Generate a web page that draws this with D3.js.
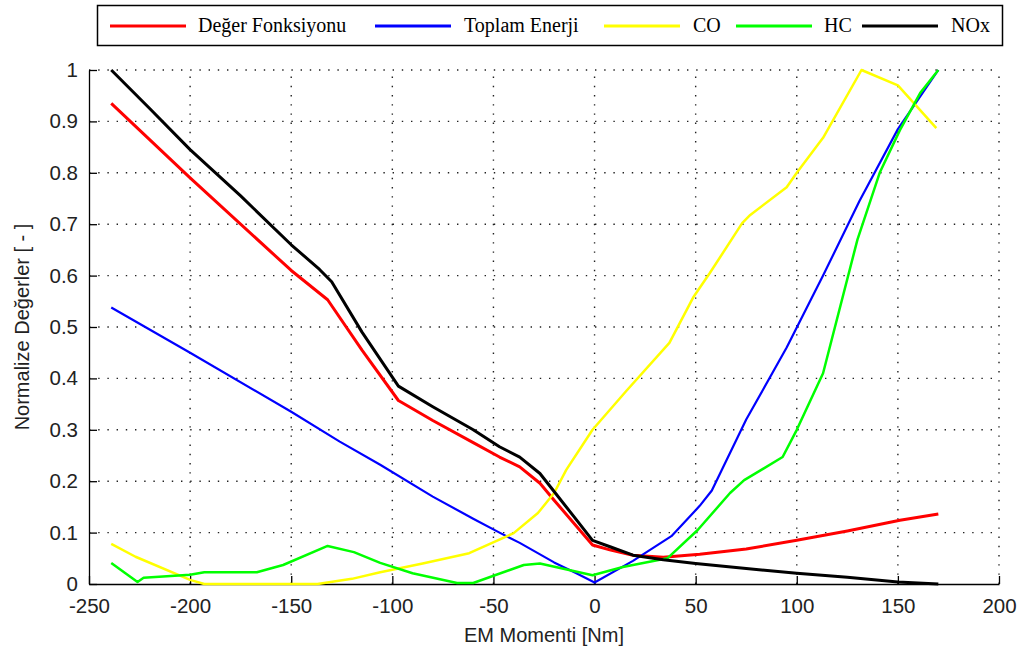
<!DOCTYPE html>
<html>
<head>
<meta charset="utf-8">
<script src="https://cdn.jsdelivr.net/npm/d3@7"></script>
<style>
  html, body { margin: 0; padding: 0; background: #fff; }
  svg { display: block; }
</style>
</head>
<body>
<svg id="chart" width="1025" height="651"></svg>
<script>
// Series values: EM torque [Nm] vs normalized value
const degerX = [-239, -200, -150, -132, -115, -97, -80, -60, -47, -37, -27, -20, -1, 8, 19, 34, 52, 75, 100, 125, 151, 170];
const degerY = [0.935, 0.79, 0.61, 0.553, 0.455, 0.357, 0.318, 0.275, 0.247, 0.228, 0.196, 0.163, 0.076, 0.066, 0.056, 0.052, 0.058, 0.068, 0.085, 0.103, 0.124, 0.136];

const enerjiX = [-239, -200, -150, -126, -106, -80, -60, -47, -37, -20, -9, 0, 19, 38, 52, 58, 75, 95, 113, 131, 150, 170];
const enerjiY = [0.538, 0.45, 0.335, 0.277, 0.232, 0.17, 0.127, 0.1, 0.08, 0.042, 0.021, 0.003, 0.045, 0.093, 0.152, 0.182, 0.32, 0.46, 0.6, 0.745, 0.885, 1.0];

const coX = [-239, -227, -200, -193, -137, -120, -106, -85, -62, -40, -28, -20, -14, -1, 16, 37, 49, 57, 73, 77, 95, 100, 113, 132, 150, 169];
const coY = [0.078, 0.053, 0.008, 0, 0, 0.01, 0.023, 0.04, 0.06, 0.099, 0.138, 0.177, 0.222, 0.3, 0.377, 0.469, 0.559, 0.605, 0.702, 0.718, 0.772, 0.8, 0.868, 1.0, 0.97, 0.887];

const hcX = [-239, -226, -223, -200, -193, -167, -154, -132, -119, -106, -90, -68, -60, -35, -27, -1, 14, 36, 51, 67, 74, 93, 100, 113, 130, 141, 151, 161, 170];
const hcY = [0.041, 0.004, 0.012, 0.018, 0.023, 0.023, 0.037, 0.074, 0.062, 0.041, 0.021, 0.002, 0.002, 0.037, 0.04, 0.017, 0.033, 0.05, 0.105, 0.177, 0.202, 0.247, 0.3, 0.41, 0.67, 0.8, 0.883, 0.955, 1.0];

const noxX = [-239, -220, -200, -175, -150, -136, -130, -115, -97, -80, -60, -47, -37, -27, -20, -10, -1, 8, 19, 34, 50, 75, 100, 125, 150, 170];
const noxY = [1.0, 0.925, 0.845, 0.755, 0.66, 0.612, 0.588, 0.49, 0.385, 0.345, 0.3, 0.267, 0.247, 0.215, 0.18, 0.13, 0.085, 0.072, 0.056, 0.047, 0.04, 0.03, 0.021, 0.013, 0.004, 0];

const seriesNames = ["Değer Fonksiyonu", "Toplam Enerji", "CO", "HC", "NOx"];
const seriesColors = ["#ff0000", "#0000ff", "#ffff00", "#00ff00", "#000000"];
const seriesWidths = [3, 2.2, 2.5, 2.5, 3];
const seriesX = [degerX, enerjiX, coX, hcX, noxX];
const seriesY = [degerY, enerjiY, coY, hcY, noxY];

const xTicks = [-250, -200, -150, -100, -50, 0, 50, 100, 150, 200];
const yTicks = [0, 0.1, 0.2, 0.3, 0.4, 0.5, 0.6, 0.7, 0.8, 0.9, 1];

const xTitle = "EM Momenti [Nm]";
const yTitle = "Normalize Değerler [ - ]";

// Layout
const plot = { left: 89, right: 999, top: 70, bottom: 584 };
const svg = d3.select("#chart");

const x = d3.scaleLinear().domain([-250, 200]).range([plot.left, plot.right]);
const y = d3.scaleLinear().domain([0, 1]).range([plot.bottom, plot.top]);

// Dotted grid
const grid = svg.append("g");
grid.selectAll("line.v").data(xTicks.slice(1)).join("line")
  .attr("x1", d => x(d)).attr("x2", d => x(d))
  .attr("y1", plot.bottom).attr("y2", plot.top)
  .attr("stroke", "#222").attr("stroke-width", 1.4)
  .attr("stroke-dasharray", "1.4 7.8");
grid.selectAll("line.h").data(yTicks.slice(1)).join("line")
  .attr("x1", plot.left).attr("x2", plot.right)
  .attr("y1", d => y(d)).attr("y2", d => y(d))
  .attr("stroke", "#222").attr("stroke-width", 1.4)
  .attr("stroke-dasharray", "1.4 7.8");

// Axes (ticks point inward); plain hyphen for negative labels
const tickFont = "'Liberation Sans', Arial, sans-serif";
const xAxis = svg.append("g")
  .attr("transform", `translate(0,${plot.bottom})`)
  .call(d3.axisBottom(x).tickValues(xTicks).tickSize(-8).tickPadding(14).tickSizeOuter(0)
    .tickFormat(d => String(d)));
const yAxis = svg.append("g")
  .attr("transform", `translate(${plot.left},0)`)
  .call(d3.axisLeft(y).tickValues(yTicks).tickSize(-8).tickPadding(11).tickSizeOuter(0)
    .tickFormat(d => d === 0 || d === 1 ? String(d) : d.toFixed(1)));

[xAxis, yAxis].forEach(g => {
  g.select(".domain").attr("stroke", "#000").attr("stroke-width", 1.3);
  g.selectAll(".tick line").attr("stroke", "#000").attr("stroke-width", 1.3);
  g.selectAll(".tick text")
    .attr("fill", "#222")
    .style("font-family", tickFont)
    .style("font-size", "20.5px");
});

// Series lines
const lines = svg.append("g");
seriesNames.forEach((name, i) => {
  const pts = seriesX[i].map((v, k) => [v, seriesY[i][k]]);
  lines.append("path")
    .datum(pts)
    .attr("fill", "none")
    .attr("stroke", seriesColors[i])
    .attr("stroke-width", seriesWidths[i])
    .attr("stroke-linejoin", "round")
    .attr("d", d3.line().x(d => x(d[0])).y(d => y(d[1])));
});

// Axis titles
svg.append("text")
  .attr("x", (plot.left + plot.right) / 2)
  .attr("y", 642)
  .attr("text-anchor", "middle")
  .attr("fill", "#222")
  .style("font-family", tickFont)
  .style("font-size", "20px")
  .text(xTitle);

svg.append("text")
  .attr("transform", "translate(29,327) rotate(-90)")
  .attr("text-anchor", "middle")
  .attr("fill", "#222")
  .style("font-family", tickFont)
  .style("font-size", "20px")
  .text(yTitle);

// Legend
const legend = svg.append("g");
legend.append("rect")
  .attr("x", 97.5).attr("y", 5.5).attr("width", 905).attr("height", 40)
  .attr("fill", "#fff").attr("stroke", "#000").attr("stroke-width", 1.5);
const legendLineX = [110, 375, 604, 736, 862];
const legendTextX = [198, 464, 693, 824, 951];
seriesNames.forEach((name, i) => {
  legend.append("line")
    .attr("x1", legendLineX[i]).attr("x2", legendLineX[i] + 76)
    .attr("y1", 26).attr("y2", 26)
    .attr("stroke", seriesColors[i]).attr("stroke-width", 3);
  legend.append("text")
    .attr("x", legendTextX[i]).attr("y", 32)
    .attr("fill", "#000")
    .style("font-family", "'Liberation Serif', 'Times New Roman', serif")
    .style("font-size", "20px")
    .text(name);
});
</script>
</body>
</html>
